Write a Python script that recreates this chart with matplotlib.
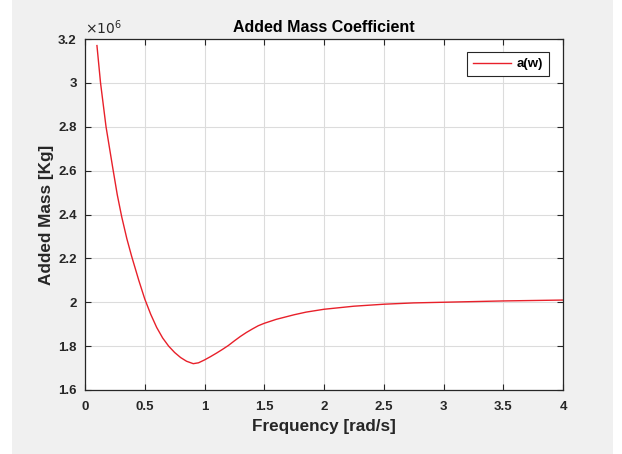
import matplotlib.pyplot as plt
from matplotlib.patches import Rectangle
from matplotlib.ticker import FuncFormatter

# frequency [rad/s] and added mass [x 1e6 kg]
freq = [0.10, 0.13, 0.176, 0.23, 0.27, 0.307, 0.35, 0.39, 0.45, 0.50, 0.55,
        0.60, 0.65, 0.70, 0.75, 0.80, 0.85, 0.906, 0.95, 1.00, 1.05, 1.10,
        1.15, 1.20, 1.25, 1.30, 1.35, 1.40, 1.45, 1.50, 1.60, 1.75, 1.85,
        2.00, 2.25, 2.50, 2.75, 3.00, 3.50, 4.00]
added_mass = [3.17, 3.00, 2.80, 2.62, 2.49, 2.39, 2.29, 2.21, 2.10, 2.015,
              1.945, 1.885, 1.837, 1.80, 1.771, 1.748, 1.731, 1.720, 1.724,
              1.737, 1.752, 1.768, 1.785, 1.803, 1.824, 1.844, 1.862, 1.878,
              1.893, 1.904, 1.922, 1.943, 1.955, 1.968, 1.982, 1.991, 1.997,
              2.000, 2.006, 2.010]

plt.rcParams['font.family'] = ['Liberation Sans', 'DejaVu Sans']
dark = '#262626'

fig = plt.figure(figsize=(6.22, 4.54), dpi=100, facecolor='white')
fig.patches.append(Rectangle((12 / 622, 0), (613 - 12) / 622, 1,
                             transform=fig.transFigure, facecolor='#f0f0f0',
                             edgecolor='none', zorder=-10))

ax = fig.add_axes([85 / 622, 1 - 390 / 454, (563 - 85) / 622, (390 - 39) / 454])
ax.set_facecolor('white')
ax.plot(freq, added_mass, color='#e8202a', lw=1.0, label='a(w)')

ax.set_xlim(0, 4)
ax.set_ylim(1.6, 3.2)
ax.set_xticks([0, 0.5, 1, 1.5, 2, 2.5, 3, 3.5, 4])
ax.set_yticks([1.6, 1.8, 2, 2.2, 2.4, 2.6, 2.8, 3, 3.2])
fmt = FuncFormatter(lambda v, p: f'{v:g}')
ax.xaxis.set_major_formatter(fmt)
ax.yaxis.set_major_formatter(fmt)

ax.grid(True, color='#dcdcdc', lw=0.8)
ax.set_axisbelow(True)
ax.tick_params(direction='in', length=4, width=0.8, colors=dark,
               top=True, right=True, labelsize=9.5)
ax.tick_params(axis='x', pad=8)
ax.tick_params(axis='y', pad=6)
for lbl in ax.get_xticklabels() + ax.get_yticklabels():
    lbl.set_fontweight('bold')
for s in ax.spines.values():
    s.set_color(dark)
    s.set_linewidth(0.9)

ax.set_title('Added Mass Coefficient', fontsize=11.5, fontweight='bold',
             color='black', pad=5)
ax.set_xlabel('Frequency [rad/s]', fontsize=12.3, fontweight='bold', color=dark,
              labelpad=4)
ax.set_ylabel('Added Mass [Kg]', fontsize=12.3, fontweight='bold', color=dark,
              labelpad=3)
ax.text(0, 1.005, r'$\times10^{6}$', transform=ax.transAxes, fontsize=10,
        color=dark, ha='left', va='bottom')

leg = ax.legend(loc='upper right', bbox_to_anchor=(0.97, 0.963), fancybox=False,
                edgecolor=dark, framealpha=1, handlelength=2.9,
                handletextpad=0.4, borderpad=0.45, borderaxespad=0,
                prop={'weight': 'bold', 'size': 9.5})
leg.get_frame().set_linewidth(0.8)

fig.savefig('out.png', dpi=100, facecolor=fig.get_facecolor())
